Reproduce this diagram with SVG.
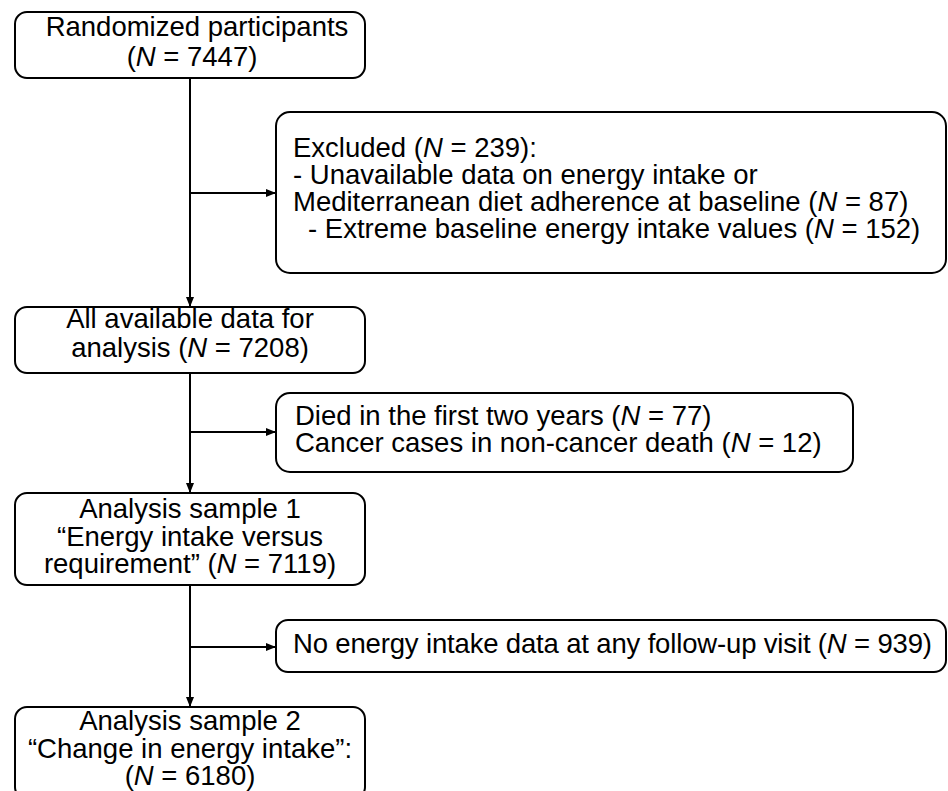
<svg xmlns="http://www.w3.org/2000/svg" width="948" height="791" viewBox="0 0 948 791">
<defs>
<marker id="ah" markerWidth="10" markerHeight="8" refX="9" refY="4" orient="auto" markerUnits="userSpaceOnUse">
<path d="M0,0 L10,4 L0,8 Z" fill="#000"/>
</marker>
<style>
.box{fill:#fff;stroke:#000;stroke-width:2}
.t{font-family:"Liberation Sans",Arial,sans-serif;font-size:27.5px;fill:#000}
.c{text-anchor:middle}
.i{font-style:italic}
.ln{fill:none;stroke:#000;stroke-width:2}
</style>
</defs>
<rect width="948" height="791" fill="#fff"/>
<g id="connectors">
<line class="ln" x1="190" y1="78" x2="190" y2="306" marker-end="url(#ah)"/>
<line class="ln" x1="190" y1="193" x2="275" y2="193" marker-end="url(#ah)"/>
<line class="ln" x1="190" y1="373" x2="190" y2="492" marker-end="url(#ah)"/>
<line class="ln" x1="190" y1="432" x2="275" y2="432" marker-end="url(#ah)"/>
<line class="ln" x1="190" y1="585" x2="190" y2="706" marker-end="url(#ah)"/>
<line class="ln" x1="190" y1="647" x2="275" y2="647" marker-end="url(#ah)"/>
</g>
<g id="randomized">
<rect class="box" x="15" y="12" width="350" height="66" rx="12"/>
<text class="t c" x="197" y="36">Randomized participants</text>
<text class="t c" x="192" y="66">(<tspan class="i">N</tspan> = 7447)</text>
</g>
<g id="excluded">
<rect class="box" x="276" y="112" width="670" height="161" rx="14"/>
<text class="t" x="293" y="157">Excluded (<tspan class="i">N</tspan> = 239):</text>
<text class="t" x="293" y="184">- Unavailable data on energy intake or</text>
<text class="t" x="293" y="211">Mediterranean diet adherence at baseline (<tspan class="i">N</tspan> = 87)</text>
<text class="t" x="308" y="238">- Extreme baseline energy intake values (<tspan class="i">N</tspan> = 152)</text>
</g>
<g id="available">
<rect class="box" x="15" y="307" width="350" height="66" rx="12"/>
<text class="t c" x="190" y="328">All available data for</text>
<text class="t c" x="190" y="357">analysis (<tspan class="i">N</tspan> = 7208)</text>
</g>
<g id="died">
<rect class="box" x="276" y="393" width="577" height="79" rx="14"/>
<text class="t" x="295" y="425">Died in the first two years (<tspan class="i">N</tspan> = 77)</text>
<text class="t" x="295" y="452">Cancer cases in non-cancer death (<tspan class="i">N</tspan> = 12)</text>
</g>
<g id="sample1">
<rect class="box" x="15" y="493" width="350" height="92" rx="12"/>
<text class="t c" x="190" y="518">Analysis sample 1</text>
<text class="t c" x="190" y="546">“Energy intake versus</text>
<text class="t c" x="190" y="573">requirement” (<tspan class="i">N</tspan> = 7119)</text>
</g>
<g id="noenergy">
<rect class="box" x="276" y="620" width="670" height="52" rx="12"/>
<text class="t" x="293" y="653" textLength="639" lengthAdjust="spacing">No energy intake data at any follow-up visit (<tspan class="i">N</tspan> = 939)</text>
</g>
<g id="sample2">
<rect class="box" x="15" y="707" width="350" height="92" rx="12"/>
<text class="t c" x="190" y="730">Analysis sample 2</text>
<text class="t c" x="190" y="758">“Change in energy intake”:</text>
<text class="t c" x="190" y="785">(<tspan class="i">N</tspan> = 6180)</text>
</g>
</svg>
